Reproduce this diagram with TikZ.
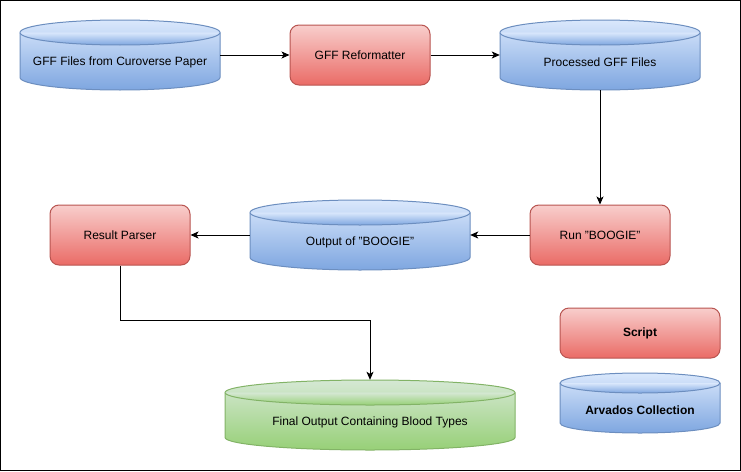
\documentclass[tikz,border=0pt]{standalone}
\usepackage{fontspec}
\setmainfont{Liberation Sans}
\usetikzlibrary{arrows.meta,calc}
\definecolor{redtop}{HTML}{F8CECC}
\definecolor{redbot}{HTML}{EA6B66}
\definecolor{redline}{HTML}{B85450}
\definecolor{bluetop}{HTML}{DAE8FC}
\definecolor{bluebot}{HTML}{7EA6E0}
\definecolor{blueline}{HTML}{6C8EBF}
\definecolor{greentop}{HTML}{D5E8D4}
\definecolor{greenbot}{HTML}{97D077}
\definecolor{greenline}{HTML}{82B366}
\tikzset{
  every node/.style={font=\fontsize{12}{14}\selectfont},
  scriptbox/.style={draw=redline, line width=1pt, rounded corners=9pt, top color=redtop, bottom color=redbot, shading angle=0, minimum width=140pt, minimum height=60pt, inner sep=0pt},
  bluecyl/.style={draw=blueline, line width=1pt, top color=bluetop, bottom color=bluebot},
  greencyl/.style={draw=greenline, line width=1pt, top color=greentop, bottom color=greenbot},
  ghost/.style={draw=none, inner sep=0pt, minimum width=#1},
  conn/.style={line width=1pt, -{Stealth[length=8pt,width=7pt,inset=2pt]}},
}
% \mycyl{name}{x1}{y1}{x2}{y2}{ry}{style}{text}
\newcommand{\mycyl}[8]{%
  \pgfmathsetmacro{\cx}{(#2+#4)/2}%
  \pgfmathsetmacro{\rx}{(#4-#2)/2}%
  \pgfmathsetmacro{\yt}{#3+#6}%
  \pgfmathsetmacro{\yb}{#5-#6}%
  \path[#7] (#2,\yt) -- (#2,\yb) arc[start angle=180,end angle=0,x radius=\rx,y radius=#6] -- (#4,\yt) arc[start angle=0,end angle=-180,x radius=\rx,y radius=#6] -- cycle;
  \draw[#7, fill=none] (#2,\yt) arc[start angle=180,end angle=0,x radius=\rx,y radius=#6];
  \node[draw=none, inner sep=0pt, minimum width={(#4-#2)*1pt}, minimum height={(#5-#3)*1pt}] (#1) at (\cx,{(#3+#5)/2}) {};
  \node at (\cx,{(#3+#5)/2+7}) {#8};
}
\begin{document}
\begin{tikzpicture}[x=1pt,y=-1pt]
\useasboundingbox (0,0) rectangle (741,471);
\draw[line width=1pt] (0.5,0.5) rectangle (740.5,470.5);

\mycyl{gff}{20}{20}{220}{90}{12.5}{bluecyl}{GFF Files from Curoverse Paper}
\node[scriptbox] (ref) at (360,55) {GFF Reformatter};
\mycyl{proc}{500}{20}{700}{90}{12.5}{bluecyl}{Processed GFF Files}
\node[scriptbox] (run) at (600,235) {Run "BOOGIE"};
\mycyl{out}{250}{200}{470}{270}{12.5}{bluecyl}{Output of "BOOGIE"}
\node[scriptbox] (rp) at (120,235) {Result Parser};
\mycyl{final}{225}{380}{515}{450}{12.5}{greencyl}{Final Output Containing Blood Types}
\node[scriptbox, minimum width=160pt, minimum height=50pt] (leg1) at (640,333) {\textbf{Script}};
\mycyl{leg2}{560}{373}{720}{433}{10}{bluecyl}{\textbf{Arvados Collection}}

\draw[conn] (gff.east) -- (ref.west);
\draw[conn] (ref.east) -- (proc.west);
\draw[conn] (proc.south) -- (run.north);
\draw[conn] (run.west) -- (out.east);
\draw[conn] (out.west) -- (rp.west -| rp.east);
\draw[conn] (rp.south) -- ++(0,55) -| (final.north);
\end{tikzpicture}
\end{document}
